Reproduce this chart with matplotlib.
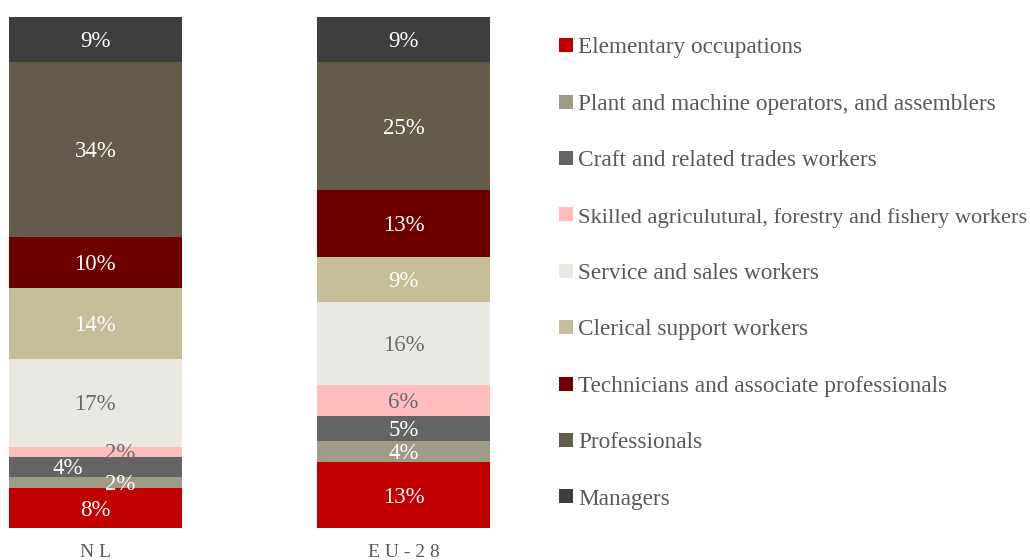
import matplotlib
matplotlib.use("Agg")
import matplotlib.pyplot as plt
from matplotlib.lines import Line2D

plt.rcParams['font.family'] = ['Liberation Serif', 'DejaVu Serif']

groups = ["NL", "EU-28"]
group_labels = ["N L", "E U - 2 8"]
categories = ["Elementary occupations",
              "Plant and machine operators, and assemblers",
              "Craft and related trades workers",
              "Skilled agriculutural, forestry and fishery workers",
              "Service and sales workers",
              "Clerical support workers",
              "Technicians and associate professionals",
              "Professionals",
              "Managers"]
nl_values = [7.8, 2.2, 3.9, 2.0, 17.2, 13.9, 10.0, 34.2, 8.8]
eu_values = [12.9, 4.1, 4.9, 6.1, 16.2, 8.8, 13.1, 25.0, 8.9]
colors = ["#C00000", "#A09A88", "#646464", "#FFBDBD", "#E9E8E3",
          "#C6BD99", "#6E0000", "#655B4B", "#3E3E3E"]
label_colors = ["white", "white", "white", "#6B6B6B", "#6B6B6B",
                "white", "white", "white", "white"]
# horizontal nudges for crowded NL labels (data units)
nl_offsets = [0, 0.08, -0.09, 0.08, 0, 0, 0, 0, 0]
eu_offsets = [0] * 9

fig = plt.figure(figsize=(10.3, 5.6), dpi=100)
ax = fig.add_axes([9/1030, 32/560, 481/1030, 511/560])
width = 0.56
xs = [0, 1]
series = [nl_values, eu_values]
offsets = [nl_offsets, eu_offsets]
for gi, (x, vals, offs) in enumerate(zip(xs, series, offsets)):
    bottom = 0
    for ci, v in enumerate(vals):
        ax.bar(x, v, width=width, bottom=bottom, color=colors[ci], linewidth=0)
        ax.text(x + offs[ci], bottom + v / 2 - 0.4, f"{round(v):d}%",
                ha="center", va="center", fontsize=16.5,
                color=label_colors[ci])
        bottom += v

ax.set_xlim(-0.28, 1.28)
ax.set_ylim(0, 100)
ax.axis("off")
for x, lab in zip(xs, group_labels):
    ax.text(x, -4.7, lab, ha="center", va="center", fontsize=14,
            color="#595959")

handles = [Line2D([], [], marker="s", linestyle="none", markersize=9.5,
                  markerfacecolor=c, markeredgewidth=0) for c in colors]
leg = fig.legend(handles, categories, loc="upper left",
                 bbox_to_anchor=(560/1030, 1 - 37/560), frameon=False,
                 fontsize=16.75, labelspacing=1.51, handlelength=0.55,
                 handletextpad=0.22, borderpad=0, borderaxespad=0)
for t in leg.get_texts():
    t.set_color("#595959")
    if t.get_text().startswith("Skilled"):
        t.set_fontsize(16.1)

fig.savefig("out.png", dpi=100)
